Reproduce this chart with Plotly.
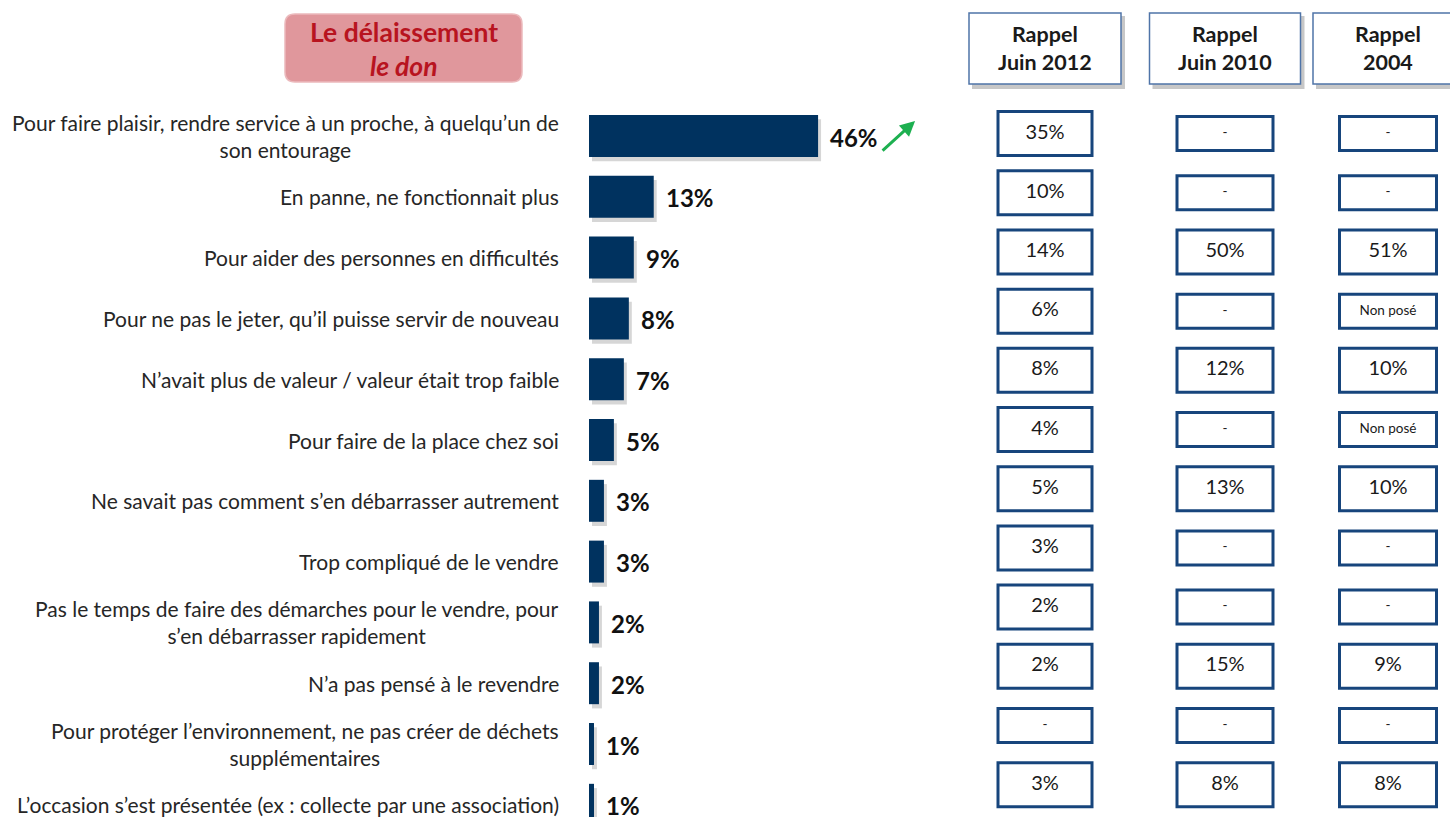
import plotly.graph_objects as go

# ---------------- DATA ----------------
categories = [
    "Pour faire plaisir, rendre service à un proche, à quelqu’un de<br>son entourage",
    "En panne, ne fonctionnait plus",
    "Pour aider des personnes en difficultés",
    "Pour ne pas le jeter, qu’il puisse servir de nouveau",
    "N’avait plus de valeur / valeur était trop faible",
    "Pour faire de la place chez soi",
    "Ne savait pas comment s’en débarrasser autrement",
    "Trop compliqué de le vendre",
    "Pas le temps de faire des démarches pour le vendre, pour<br>s’en débarrasser rapidement",
    "N’a pas pensé à le revendre",
    "Pour protéger l’environnement, ne pas créer de déchets<br>supplémentaires",
    "L’occasion s’est présentée (ex : collecte par une association)",
]
values = [46, 13, 9, 8, 7, 5, 3, 3, 2, 2, 1, 1]

rappel_headers = ["Rappel<br>Juin 2012", "Rappel<br>Juin 2010", "Rappel<br>2004"]
rappel_2012 = ["35%", "10%", "14%", "6%", "8%", "4%", "5%", "3%", "2%", "2%", "-", "3%"]
rappel_2010 = ["-", "-", "50%", "-", "12%", "-", "13%", "-", "-", "15%", "-", "8%"]
rappel_2004 = ["-", "-", "51%", "Non posé", "10%", "Non posé", "10%", "-", "-", "9%", "-", "8%"]
rappel_columns = [rappel_2012, rappel_2010, rappel_2004]

title_line1 = "Le délaissement"
title_line2 = "le don"

# ---------------- LAYOUT CONSTANTS ----------------
W, H = 1450, 817
FONT = "Lato"
BAR_X0 = 589          # px where bars start
PX_PER_PCT = 4.98
ROW0, ROW_STEP = 136, 60.8
TAB_ROW0, TAB_STEP = 133.6, 59.19
COL_CENTERS = [1045, 1225, 1388]
COL_WIDTHS = [94, 96, 97]
HEAD_WIDTHS = [152, 151, 150]
BAR_COLOR = "#00325F"
BOX_COLOR = "#17457C"

n = len(values)
rows = list(range(n))

fig = go.Figure()

# bar shadow
fig.add_trace(go.Bar(
    x=values, y=[r + 0.07 for r in rows], base=0.6, orientation="h",
    marker=dict(color="rgba(0,0,0,0.16)", line=dict(width=0)),
    width=0.69, hoverinfo="skip", xaxis="x", yaxis="y",
))
# bars
fig.add_trace(go.Bar(
    x=values, y=rows, orientation="h",
    marker=dict(color=BAR_COLOR, line=dict(width=0)),
    width=0.69, hoverinfo="skip", xaxis="x", yaxis="y",
))

annotations = []
shapes = []

# category labels and value labels
for i, (cat, v) in enumerate(zip(categories, values)):
    annotations.append(dict(
        x=0, y=i, xref="x", yref="y", xanchor="right", yanchor="middle",
        xshift=-28, text=cat, showarrow=False,
        align="center" if "<br>" in cat else "right",
        font=dict(family=FONT, size=21, color="#262626"),
    ))
    annotations.append(dict(
        x=v, y=i, xref="x", yref="y", xanchor="left", yanchor="middle",
        xshift=10, yshift=-1, text=f"<b>{v}%</b>", showarrow=False,
        font=dict(family=FONT, size=24, color="#111111"),
    ))

# green rising arrow next to the first bar
annotations.append(dict(
    x=values[0], y=0, xref="x", yref="y", text="", showarrow=True,
    xshift=97, yshift=15, ax=-34, ay=31, axref="pixel", ayref="pixel",
    arrowhead=2, arrowsize=1, arrowwidth=3, arrowcolor="#1DB050",
))

# table text
for c, col in enumerate(rappel_columns):
    fig.add_trace(go.Scatter(
        x=[COL_CENTERS[c]] * n, y=rows, mode="text", text=col,
        textposition="middle center",
        textfont=dict(family=FONT, color="#1a1a1a",
                      size=[20 if "%" in t else 13.5 for t in col]),
        hoverinfo="skip", xaxis="x2", yaxis="y2",
    ))
    for i, t in enumerate(col):
        big = "%" in t
        w = COL_WIDTHS[c]
        h = 44 if big else 34
        shapes.append(dict(
            type="rect", xref="x2", yref="y2", xsizemode="pixel", ysizemode="pixel",
            xanchor=COL_CENTERS[c], yanchor=i,
            x0=-w / 2, x1=w / 2, y0=-h / 2, y1=h / 2,
            line=dict(color=BOX_COLOR, width=3), fillcolor="white", layer="below",
        ))

# header boxes
head_y = 1 - 48.5 / H
for c, htxt in enumerate(rappel_headers):
    w = HEAD_WIDTHS[c]
    shapes.append(dict(
        type="rect", xref="x2", yref="paper", xsizemode="pixel", ysizemode="pixel",
        xanchor=COL_CENTERS[c], yanchor=head_y,
        x0=-w / 2 + 3, x1=w / 2 + 4, y0=-35.5 - 5, y1=35.5 - 3,
        line=dict(width=0), fillcolor="rgba(0,0,0,0.22)", layer="below",
    ))
    shapes.append(dict(
        type="rect", xref="x2", yref="paper", xsizemode="pixel", ysizemode="pixel",
        xanchor=COL_CENTERS[c], yanchor=head_y,
        x0=-w / 2, x1=w / 2, y0=-35.5, y1=35.5,
        line=dict(color="#4F74A8", width=1.5), fillcolor="white", layer="below",
    ))
    annotations.append(dict(
        x=COL_CENTERS[c], y=head_y, xref="x2", yref="paper",
        xanchor="center", yanchor="middle", text=f"<b>{htxt}</b>", showarrow=False,
        font=dict(family=FONT, size=21.5, color="#1a1a1a"),
    ))

# title rounded box
tw, th, r = 237, 68, 10
hw, hh = tw / 2, th / 2
path = (f"M {-hw + r},{-hh} L {hw - r},{-hh} Q {hw},{-hh} {hw},{-hh + r} "
        f"L {hw},{hh - r} Q {hw},{hh} {hw - r},{hh} L {-hw + r},{hh} "
        f"Q {-hw},{hh} {-hw},{hh - r} L {-hw},{-hh + r} Q {-hw},{-hh} {-hw + r},{-hh} Z")
title_cx = 403.5 / W
shapes.append(dict(
    type="path", xref="paper", yref="paper", xsizemode="pixel", ysizemode="pixel",
    xanchor=title_cx, yanchor=1 - 48 / H, path=path,
    fillcolor="#E0979C", line=dict(color="#EBB9BC", width=1.5), layer="below",
))
annotations.append(dict(
    x=title_cx, y=1 - 32 / H, xref="paper", yref="paper", xanchor="center", yanchor="middle",
    text=f"<b>{title_line1}</b>", showarrow=False,
    font=dict(family=FONT, size=26.5, color="#B8141F"),
))
annotations.append(dict(
    x=title_cx, y=1 - 66 / H, xref="paper", yref="paper", xanchor="center", yanchor="middle",
    text=f"<b><i>{title_line2}</i></b>", showarrow=False,
    font=dict(family=FONT, size=26.5, color="#B8141F"),
))

hidden = dict(showgrid=False, zeroline=False, showticklabels=False, showline=False, ticks="")
fig.update_layout(
    width=W, height=H, margin=dict(l=0, r=0, t=0, b=0),
    paper_bgcolor="white", plot_bgcolor="rgba(0,0,0,0)",
    showlegend=False, barmode="overlay",
    xaxis=dict(domain=[BAR_X0 / W, 1], range=[0, (W - BAR_X0) / PX_PER_PCT], **hidden),
    yaxis=dict(domain=[0, 1], range=[(H - ROW0) / ROW_STEP, -ROW0 / ROW_STEP], **hidden),
    xaxis2=dict(domain=[0, 1], range=[0, W], anchor="y2", **hidden),
    yaxis2=dict(domain=[0, 1], range=[(H - TAB_ROW0) / TAB_STEP, -TAB_ROW0 / TAB_STEP],
                anchor="x2", **hidden),
    annotations=annotations, shapes=shapes,
)

fig.write_html("out.html", config={"displayModeBar": False},
               post_script="document.body.style.margin='0';")
